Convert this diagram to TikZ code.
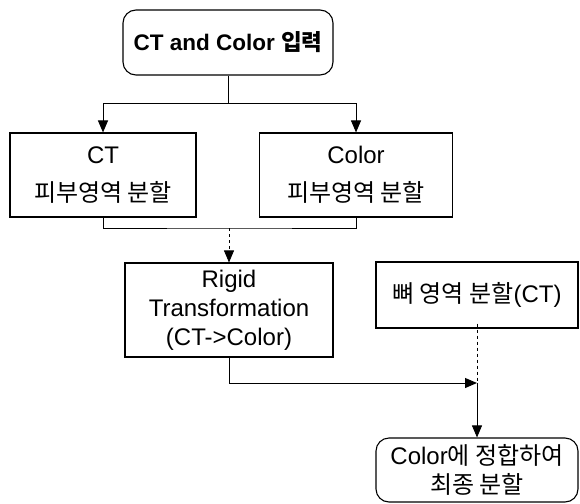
\documentclass[tikz,border=0pt]{standalone}
\usepackage{fontspec}
\setmainfont{Liberation Sans}
\newfontfamily\kr{Noto Sans CJK KR}
\usetikzlibrary{arrows.meta}
\tikzset{
  box/.style={draw, line width=1.1pt, rectangle, align=center, inner sep=0pt,
    font=\fontsize{24}{29}\selectfont},
  rbox/.style={box, rounded corners=13pt},
  conn/.style={line width=1pt},
  arr/.style={conn, -{Triangle[length=12pt,width=10pt]}},
}
\begin{document}
\begin{tikzpicture}[x=1pt,y=-1pt]
\useasboundingbox (0,0) rectangle (580,503);
\node[rbox, minimum width=210pt, minimum height=65pt, font=\fontsize{22.5}{28}\selectfont\bfseries] (top) at (228,42.5) {CT and Color {\kr 입력}};
\node[box, minimum width=186pt, minimum height=84pt] (ct) at (103,175) {CT\\[9pt]{\kr 피부영역 분할}};
\node[box, minimum width=193pt, minimum height=84pt] (col) at (356,175) {Color\\[9pt]{\kr 피부영역 분할}};
\node[box, minimum width=208pt, minimum height=94pt] (rigid) at (229,310) {Rigid\\Transformation\\(CT->Color)};
\node[box, minimum width=202pt, minimum height=66pt] (bone) at (477,295) {{\kr 뼈 영역 분할}(CT)};
\node[rbox, minimum width=202pt, minimum height=64pt] (final) at (477,470) {Color{\kr 에 정합하여}\\{\kr 최종 분할}};
\coordinate (split) at (228,103);
\coordinate (join) at (229,228);
\coordinate (jn) at (477,383);
\draw[conn] (top.south) -- (split);
\draw[arr] (split) -| (ct.north);
\draw[arr] (split) -| (col.north);
\draw[conn] (ct.south) |- (join) -| (col.south);
\draw[arr, dashed, line width=0.8pt] (join) -- (rigid.north);
\draw[arr] (rigid.south) |- (jn);
\draw[conn, dashed, line width=0.8pt] ([yshift=5pt]bone.south) -- (jn);
\draw[arr, line width=0.8pt] (jn) -- (final.north);
\end{tikzpicture}
\end{document}
